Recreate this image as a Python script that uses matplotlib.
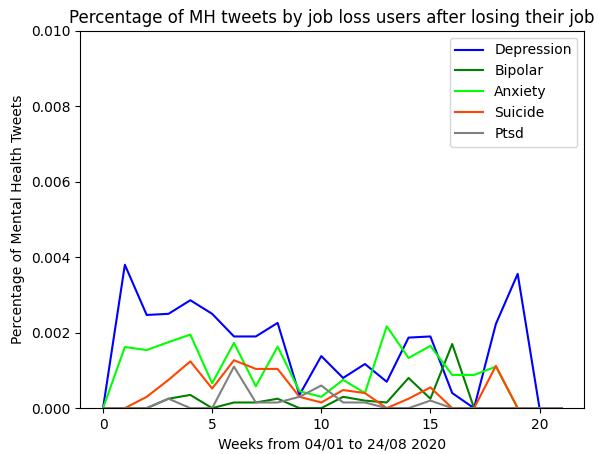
import matplotlib
matplotlib.use("Agg")
import matplotlib.pyplot as plt
import numpy as np

weeks = list(range(22))
depression = [0, 0.0038, 0.00247, 0.0025, 0.00286, 0.0025, 0.0019, 0.0019, 0.00226, 0.00035,
              0.00138, 0.0008, 0.00117, 0.0007, 0.00187, 0.0019, 0.0004, 0, 0.00223, 0.00356, 0, 0]
bipolar = [0, 0, 0, 0.00025, 0.00035, 0, 0.00015, 0.00015, 0.00025, 0, 0, 0.0003, 0.0002,
           0.00015, 0.0008, 0.00025, 0.0017, 0, 0, 0, 0, 0]
anxiety = [0, 0.00162, 0.00154, 0.00175, 0.00195, 0.00066, 0.00173, 0.00058, 0.00163, 0.00045,
           0.0003, 0.00075, 0.0004, 0.00217, 0.00133, 0.00165, 0.00088, 0.00088, 0.0011, 0, 0, 0]
suicide = [0, 0, 0.0003, 0.00075, 0.00124, 0.00052, 0.00127, 0.00104, 0.00104, 0.0003, 0.00015,
           0.00048, 0.0004, 0, 0.00025, 0.00055, 0, 0, 0.00112, 0, 0, 0]
ptsd = [0, 0, 0, 0.00025, 0, 0, 0.0011, 0.00015, 0.00015, 0.0003, 0.0006, 0.00015, 0.00015,
        0, 0, 0.0002, 0, 0, 0, 0, 0, 0]

series = [("Depression", depression, "blue"),
          ("Bipolar", bipolar, "green"),
          ("Anxiety", anxiety, "lime"),
          ("Suicide", suicide, "orangered"),
          ("Ptsd", ptsd, "gray")]

fig = plt.figure(figsize=(5.98, 4.54), dpi=100)
ax = fig.add_axes([0.134, 0.101, 0.843, 0.831])
for name, vals, color in series:
    ax.plot(weeks, vals, color=color, label=name)
ax.set_ylim(0, 0.010)
ax.set_yticks([0, 0.002, 0.004, 0.006, 0.008, 0.010])
ax.set_xticks([0, 5, 10, 15, 20])
ax.set_xlabel("Weeks from 04/01 to 24/08 2020")
ax.set_ylabel("Percentage of Mental Health Tweets")
ax.set_title("Percentage of MH tweets by job loss users after losing their job")
ax.legend(loc="upper right")
fig.savefig("out.png", dpi=100)
